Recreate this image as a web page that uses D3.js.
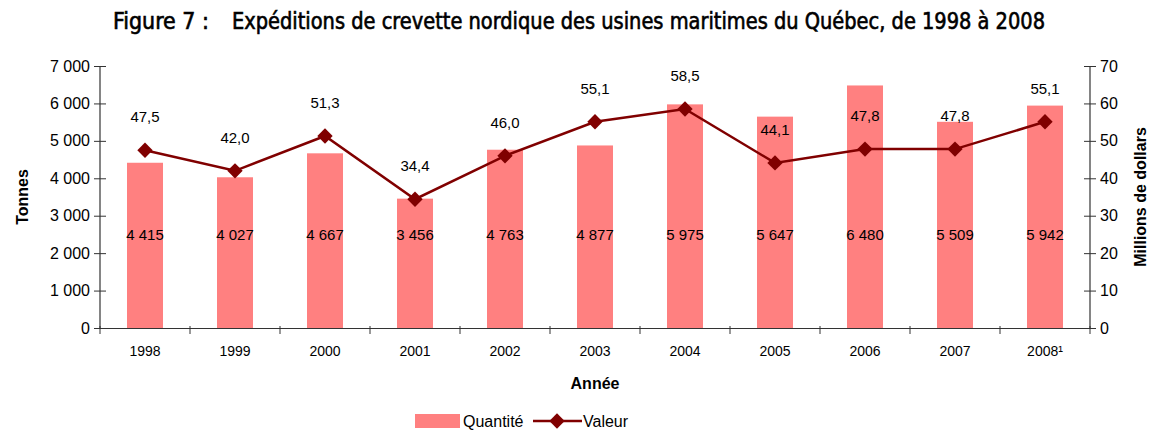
<!DOCTYPE html>
<html>
<head>
<meta charset="utf-8">
<script src="https://cdn.jsdelivr.net/npm/d3@7"></script>
<style>
  body { margin: 0; background: #fff; }
  text { font-family: Arial, "Liberation Sans", sans-serif; fill: #000; }
</style>
</head>
<body>
<div id="chart"></div>
<script>
// data
let years = ["1998", "1999", "2000", "2001", "2002", "2003", "2004", "2005", "2006", "2007", "2008¹"];
let quantite = [4415, 4027, 4667, 3456, 4763, 4877, 5975, 5647, 6480, 5509, 5942];
let valeur = [47.5, 42.0, 51.3, 34.4, 46.0, 55.1, 58.5, 44.1, 47.8, 47.8, 55.1];
let leftTicks = [0, 1000, 2000, 3000, 4000, 5000, 6000, 7000];
let rightTicks = [0, 10, 20, 30, 40, 50, 60, 70];

function makeChart() {
    let svgWidth = 1154;
    let svgHeight = 433;
    let margin = { top: 66, right: 64, bottom: 105, left: 100 };
    let width = svgWidth - margin.left - margin.right;
    let height = svgHeight - margin.top - margin.bottom;

    let svg = d3.select("#chart").append("svg")
        .attr("width", svgWidth)
        .attr("height", svgHeight);

    // title: condensed DejaVu, a thin stroke gives it the semi-bold look
    function titlePart(tx, txt, len) {
        svg.append("text")
            .attr("x", tx)
            .attr("y", 29)
            .attr("textLength", len)
            .attr("lengthAdjust", "spacingAndGlyphs")
            .style("font-family", "'DejaVu Sans', sans-serif")
            .style("font-stretch", "condensed")
            .style("font-size", "23px")
            .style("stroke", "#000")
            .style("stroke-width", "0.6px")
            .text(txt);
    }
    titlePart(113, "Figure 7 :", 96);
    titlePart(232, "Expéditions de crevette nordique des usines maritimes du Québec, de 1998 à 2008", 813);

    let chart = svg.append("g")
        .attr("transform", `translate(${margin.left}, ${margin.top})`);

    let x = d3.scaleBand().domain(years).range([0, width]);
    let yLeft = d3.scaleLinear().domain([0, 7000]).range([height, 0]);
    let yRight = d3.scaleLinear().domain([0, 70]).range([height, 0]);
    let fmt = d3.formatLocale({ decimal: ",", thousands: " ", grouping: [3], currency: ["", ""] });
    let fmtInt = fmt.format(",d");
    let fmtDec = fmt.format(".1f");

    // bars
    let barW = 36;
    chart.selectAll("rect.bar")
        .data(quantite)
        .enter()
        .append("rect")
        .attr("class", "bar")
        .attr("x", (d, i) => x(years[i]) + x.bandwidth() / 2 - barW / 2)
        .attr("y", d => yLeft(d))
        .attr("width", barW)
        .attr("height", d => height - yLeft(d))
        .attr("fill", "#ff8080");

    // axes
    let axisColor = "#333";
    let leftAxis = chart.append("g")
        .call(d3.axisLeft(yLeft).tickValues(leftTicks).tickSize(6).tickFormat(fmtInt));
    leftAxis.selectAll(".tick line").attr("x2", 6).attr("x1", -6);
    let rightAxis = chart.append("g")
        .attr("transform", `translate(${width}, 0)`)
        .call(d3.axisRight(yRight).tickValues(rightTicks).tickSize(6));
    rightAxis.selectAll(".tick line").attr("x1", -6).attr("x2", 6);

    let bottom = chart.append("g")
        .attr("transform", `translate(0, ${height})`)
        .call(d3.axisBottom(x).tickSize(0).tickPadding(18));
    // category boundary ticks
    let bounds = years.map(d => x(d)).concat([width]);
    bottom.selectAll("line.bound")
        .data(bounds)
        .enter()
        .append("line")
        .attr("class", "bound")
        .attr("x1", d => d)
        .attr("x2", d => d)
        .attr("y1", -2)
        .attr("y2", 6)
        .attr("stroke", axisColor);

    [leftAxis, rightAxis, bottom].forEach(a => {
        a.select(".domain").attr("stroke", axisColor).attr("stroke-width", 1.2);
        a.selectAll(".tick line").attr("stroke", axisColor);
        a.selectAll("text").style("font-size", "16px").attr("fill", "#000")
            .style("font-family", "Arial, 'Liberation Sans', sans-serif");
    });
    leftAxis.selectAll(".tick text").attr("x", -10);
    rightAxis.selectAll(".tick text").attr("x", 10);
    bottom.selectAll(".tick text").style("font-size", "14px");
    leftAxis.select(".domain").attr("d", `M0,0V${height}`);
    rightAxis.select(".domain").attr("d", `M0,0V${height}`);

    // bar labels
    chart.selectAll("text.qlab")
        .data(quantite)
        .enter()
        .append("text")
        .attr("class", "qlab")
        .attr("x", (d, i) => x(years[i]) + x.bandwidth() / 2)
        .attr("y", yLeft(2500) + 6)
        .attr("text-anchor", "middle")
        .style("font-size", "15px")
        .text(d => fmtInt(d));

    // line
    let line = d3.line()
        .x((d, i) => x(years[i]) + x.bandwidth() / 2)
        .y(d => yRight(d));
    chart.append("path")
        .datum(valeur)
        .attr("d", line)
        .attr("fill", "none")
        .attr("stroke", "#800000")
        .attr("stroke-width", 2.5);

    let diamond = d3.symbol().type(d3.symbolDiamond2).size(150);
    chart.selectAll("path.mark")
        .data(valeur)
        .enter()
        .append("path")
        .attr("class", "mark")
        .attr("d", diamond)
        .attr("transform", (d, i) => `translate(${x(years[i]) + x.bandwidth() / 2}, ${yRight(d)})`)
        .attr("fill", "#800000");

    chart.selectAll("text.vlab")
        .data(valeur)
        .enter()
        .append("text")
        .attr("class", "vlab")
        .attr("x", (d, i) => x(years[i]) + x.bandwidth() / 2)
        .attr("y", d => yRight(d) - 28)
        .attr("text-anchor", "middle")
        .style("font-size", "15px")
        .text(d => fmtDec(d));

    // axis titles
    chart.append("text")
        .attr("transform", "rotate(-90)")
        .attr("x", -height / 2)
        .attr("y", -72)
        .attr("text-anchor", "middle")
        .style("font-size", "16px")
        .style("font-weight", "bold")
        .text("Tonnes");
    chart.append("text")
        .attr("transform", "rotate(-90)")
        .attr("x", -height / 2)
        .attr("y", width + 56)
        .attr("text-anchor", "middle")
        .style("font-size", "16px")
        .style("font-weight", "bold")
        .text("Millions de dollars");
    chart.append("text")
        .attr("x", width / 2)
        .attr("y", height + 61)
        .attr("text-anchor", "middle")
        .style("font-size", "16px")
        .style("font-weight", "bold")
        .text("Année");

    // legend
    let legend = svg.append("g").attr("transform", "translate(415, 421)");
    legend.append("rect")
        .attr("x", 0).attr("y", -7).attr("width", 45).attr("height", 14)
        .attr("fill", "#ff8080");
    legend.append("text").attr("x", 48).attr("y", 6).style("font-size", "16px").text("Quantité");
    legend.append("line")
        .attr("x1", 118).attr("x2", 167).attr("y1", 0).attr("y2", 0)
        .attr("stroke", "#800000").attr("stroke-width", 2.5);
    legend.append("path")
        .attr("d", diamond)
        .attr("transform", "translate(142, 0)")
        .attr("fill", "#800000");
    legend.append("text").attr("x", 168).attr("y", 6).style("font-size", "16px").text("Valeur");
}

makeChart();
</script>
</body>
</html>
